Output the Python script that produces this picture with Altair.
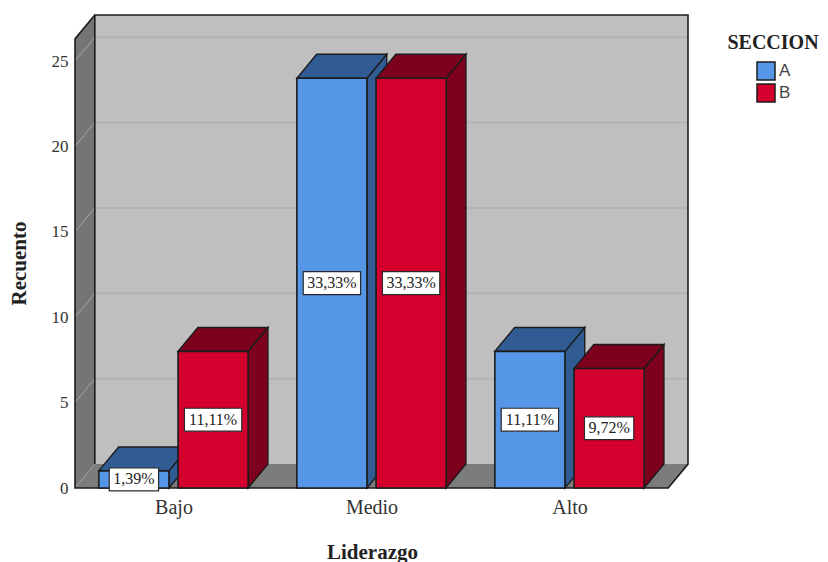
import altair as alt
import pandas as pd

categories = ["Bajo", "Medio", "Alto"]
counts_a = [1, 24, 8]
counts_b = [8, 24, 7]
percent_a = ["1,39%", "33,33%", "11,11%"]
percent_b = ["11,11%", "33,33%", "9,72%"]
y_ticks = [0, 5, 10, 15, 20, 25]

# layout of the pseudo-3D box, in data units
BAR_W = 0.354
BAR_SHIFT = 0.2
DX = 0.1
DY = 1.4
X_MIN, X_MAX = 0.5025, 3.5985
X_FRONT_R = X_MAX - DX
Y_MAX = 27.7
Y_FRONT_TOP = Y_MAX - DY
PX_X = 198.0  # pixels per x unit

SERIF = "Liberation Serif"
DARK = "#1c1c1c"
WALL = "#BFBFBF"
SIDE_WALL = "#757575"
FLOOR = "#7C7C7C"
colors = {"A": ("#5596E6", "#315C93"), "B": ("#D3002E", "#7D001C")}

xs = alt.Scale(domain=[X_MIN, X_MAX], zero=False, nice=False)
ys = alt.Scale(domain=[0, Y_MAX], zero=False, nice=False)

label_expr = "datum.value == 1 ? 'Bajo' : datum.value == 2 ? 'Medio' : 'Alto'"
x_axis = alt.Axis(values=[1, 2, 3], labelExpr=label_expr, domain=False, ticks=False, grid=False,
                  labelFont=SERIF, labelFontSize=20, labelColor="#333333", labelPadding=9,
                  title="Liderazgo", titleFont=SERIF, titleFontSize=21, titleFontWeight="bold",
                  titleColor="#222222", titleX=297, titleY=53)
y_axis = alt.Axis(values=y_ticks, domain=False, ticks=False, grid=False,
                  labelFont=SERIF, labelFontSize=17, labelColor="#333333", labelPadding=7,
                  title="Recuento", titleFont=SERIF, titleFontSize=21, titleFontWeight="bold",
                  titleColor="#222222", titleX=-46, titleY=248)
X = alt.X("x:Q", scale=xs, axis=x_axis)
Y = alt.Y("y:Q", scale=ys, axis=y_axis)
Y2 = alt.Y2("y2:Q")


def poly(rows, color):
    df = pd.DataFrame(rows, columns=["x", "y", "y2"])
    return alt.Chart(df).mark_area(color=color, stroke=None).encode(x=X, y=Y, y2=Y2)


# ---- box: walls and floor
wall = alt.Chart(pd.DataFrame([{"x": X_MIN + DX, "x2": X_MAX, "y": DY, "y2": Y_MAX}])).mark_rect(color=WALL).encode(
    x=X, x2="x2:Q", y=Y, y2=Y2)
floor = poly([[X_MIN, 0, 0], [X_MIN + DX, 0, DY], [X_FRONT_R, 0, DY], [X_MAX, DY, DY]], FLOOR)
left_wall = poly([[X_MIN, 0, Y_FRONT_TOP], [X_MIN + DX, DY, Y_MAX]], SIDE_WALL)

# ---- gridlines on both walls
grid_rows = []
for v in y_ticks[1:]:
    grid_rows.append({"x": X_MIN + DX, "x2": X_MAX, "y": v + DY})
grid = alt.Chart(pd.DataFrame(grid_rows)).mark_rule(color="#B0B0B0", strokeWidth=1.5).encode(
    x=X, x2="x2:Q", y=Y)
diag_rows = []
for v in y_ticks[1:]:
    diag_rows.append({"x": X_MIN, "y": v, "g": v})
    diag_rows.append({"x": X_MIN + DX, "y": v + DY, "g": v})
diag = alt.Chart(pd.DataFrame(diag_rows)).mark_line(color="#A6A6A6", strokeWidth=1).encode(
    x=X, y=Y, detail="g:N")
diag0 = alt.Chart(pd.DataFrame([{"x": X_MIN, "y": 0}, {"x": X_MIN + DX, "y": DY}])).mark_line(
    color="#9A9A9A", strokeWidth=1).encode(x=X, y=Y)

# ---- outline of the box
outline_pts = [
    (X_MIN + DX, DY), (X_MIN + DX, Y_MAX), (X_MAX, Y_MAX), (X_MAX, DY), (X_FRONT_R, 0),
    (X_MIN, 0), (X_MIN, Y_FRONT_TOP), (X_MIN + DX, Y_MAX),
]
outline = alt.Chart(pd.DataFrame(
    [{"x": a, "y": b, "o": i} for i, (a, b) in enumerate(outline_pts)]
)).mark_line(color=DARK, strokeWidth=1.6).encode(x=X, y=Y, order="o:Q")

layers = [wall, floor, left_wall, diag, diag0, grid, outline]

# ---- bars
legend = alt.Legend(
    orient="none", legendX=652, legendY=18, title="SECCION", titleFont=SERIF, titleFontSize=20,
    titleFontWeight="bold", titleColor="#222222", titleAnchor="middle", titleAlign="center",
    titlePadding=8, symbolType="square", symbolSize=324, symbolStrokeColor=DARK, symbolStrokeWidth=1.5,
    labelFont="Liberation Sans", labelFontSize=17, labelColor="#444444", labelOffset=3, rowPadding=-2,
)
color = alt.Color("Seccion:N", scale=alt.Scale(domain=["A", "B"], range=[colors["A"][0], colors["B"][0]]), legend=legend)

box_rows = []
for i, cat in enumerate(categories):
    for sec, shift, vals, pcts in (("A", -BAR_SHIFT, counts_a, percent_a), ("B", BAR_SHIFT, counts_b, percent_b)):
        v = vals[i]
        x0 = i + 1 + shift - BAR_W / 2
        x1 = x0 + BAR_W
        dark = colors[sec][1]
        side = pd.DataFrame([[x1, 0, v], [x1 + DX, DY, v + DY]], columns=["x", "y", "y2"])
        top = pd.DataFrame(
            [[x0, v, v], [x0 + DX, v, v + DY], [x1, v, v + DY], [x1 + DX, v + DY, v + DY]],
            columns=["x", "y", "y2"])
        for df in (side, top):
            layers.append(alt.Chart(df).mark_area(color=dark, stroke=DARK, strokeWidth=1.4).encode(
                x=X, y=Y, y2=Y2))
        front = pd.DataFrame([{"x": x0, "x2": x1, "y": 0, "y2": v, "Seccion": sec}])
        layers.append(alt.Chart(front).mark_rect(stroke=DARK, strokeWidth=1.6).encode(
            x=X, x2="x2:Q", y=Y, y2=Y2, color=color))
        digits = sum(c.isdigit() for c in pcts[i])
        half = ((0.5 * digits + 0.25 + 0.833) * 16 + 8) / 2 / PX_X
        box_rows.append({"x": x0 + BAR_W / 2 - half, "x2": x0 + BAR_W / 2 + half,
                         "xc": x0 + BAR_W / 2, "yc": v / 2,
                         "y": v / 2 - 0.67, "y2": v / 2 + 0.67, "t": pcts[i]})

boxes = pd.DataFrame(box_rows)
layers.append(alt.Chart(boxes).mark_rect(fill="white", stroke="#2a2a2a", strokeWidth=1.2).encode(
    x=X, x2="x2:Q", y=Y, y2=Y2))
layers.append(alt.Chart(boxes).mark_text(font=SERIF, fontSize=16, color="#222222", baseline="middle", align="center").encode(
    x=alt.X("xc:Q", scale=xs, axis=x_axis), y=alt.Y("yc:Q", scale=ys, axis=y_axis), text="t:N"))

chart = alt.layer(*layers).properties(
    width=613, height=473,
    padding={"left": 67, "top": 7, "right": 132, "bottom": 74},
    autosize=alt.AutoSizeParams(type="none"),
    background="white",
).configure_view(stroke=None)

chart.save("out.html", embed_options={"renderer": "svg", "actions": False})
